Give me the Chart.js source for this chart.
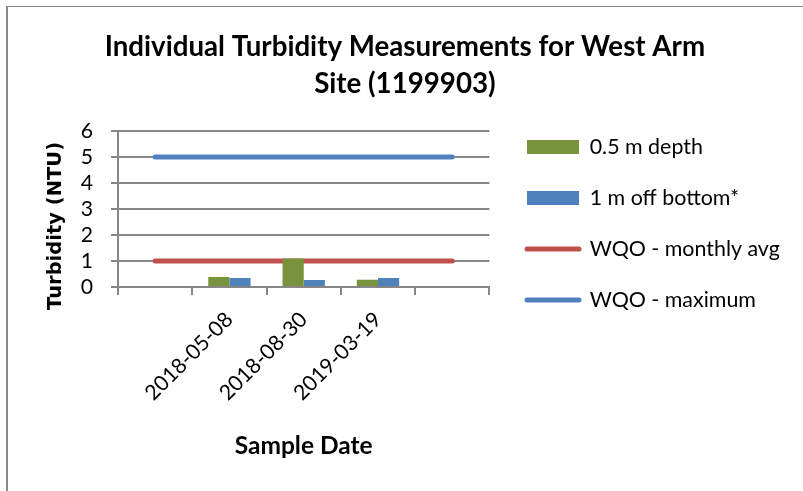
<!DOCTYPE html>
<html>
<head>
<meta charset="utf-8">
<script src="https://cdn.jsdelivr.net/npm/chart.js@4.4.1/dist/chart.umd.min.js"></script>
<style>
  html, body { margin: 0; padding: 0; background: #fff; }
  #wrap { position: relative; width: 803px; height: 491px; overflow: hidden; }
  #moldura { position: absolute; left: 6px; top: 6px; width: 900px; height: 600px;
             border-left: 2px solid #8a8a8a; border-top: 1px solid #8a8a8a; }
  #grafico { position: absolute; left: 0; top: 0; }
</style>
</head>
<body>
<div id="wrap">
  <div id="moldura"></div>
  <canvas id="grafico" width="803" height="491"></canvas>
</div>
<script>
// dados
const datas = ['', '2018-05-08', '2018-08-30', '2019-03-19', ''];
const prof05m = [null, 0.38, 1.1, 0.28, null];
const fundo1m = [null, 0.35, 0.27, 0.35, null];
const wqoMensal = [1, 1, 1, 1, 1];
const wqoMaximo = [5, 5, 5, 5, 5];
const ticksY = [0, 1, 2, 3, 4, 5, 6];

const nomes = ['0.5 m depth', '1 m off bottom*', 'WQO - monthly avg', 'WQO - maximum'];
const titulo = ['Individual Turbidity Measurements for West Arm', 'Site (1199903)'];

const fonte = 'Lato';
const cinza = '#868686';

// tamanho de fonte que da a mesma largura de texto do original (Calibri)
const mctx = document.createElement('canvas').getContext('2d');
function tamanho(texto, peso, familia, alvo) {
  mctx.font = peso + ' 100px ' + familia;
  return Math.round(1000 * alvo / mctx.measureText(texto).width) / 10;
}
const tamTitulo = tamanho(titulo[0], 'bold', fonte, 600);
const tamLeg = tamanho('WQO - monthly avg', 'normal', fonte, 190);
const tamTick = tamanho('2018-05-08', 'normal', fonte, 114);
const tamTituloX = tamanho('Sample Date', 'bold', fonte, 138);
const tamTituloY = tamanho('Turbidity (NTU)', 'bold', 'DejaVu Sans', 168);

// legenda
const legBox = 52;
const legPad = 51 - tamLeg;
mctx.font = 'normal ' + tamLeg + 'px ' + fonte;
const maxTexto = Math.max(...nomes.map(n => mctx.measureText(n).width));
const larguraLeg = legPad + legBox + tamLeg / 2 + maxTexto + 10;
const legLeft = 527 - legPad;
const padDireita = Math.max(0, 803 - legLeft - larguraLeg);
const legTopo = 147 - tamLeg / 2 - legPad - 10;

const ctx = document.getElementById('grafico').getContext('2d');
const grafico = new Chart(ctx, {
  type: 'bar',
  data: {
    labels: datas,
    datasets: [
      {
        label: nomes[0],
        data: prof05m,
        backgroundColor: '#77933C',
        pointStyle: 'rect',
        categoryPercentage: 0.57,
        barPercentage: 1.0
      },
      {
        label: nomes[1],
        data: fundo1m,
        backgroundColor: '#4F81BD',
        pointStyle: 'rect',
        categoryPercentage: 0.57,
        barPercentage: 1.0
      },
      {
        type: 'line',
        label: nomes[2],
        data: wqoMensal,
        borderColor: '#C0504D',
        backgroundColor: '#C0504D',
        borderWidth: 5,
        borderCapStyle: 'round',
        pointRadius: 0,
        pointHoverRadius: 0,
        pointStyle: 'line',
        fill: false
      },
      {
        type: 'line',
        label: nomes[3],
        data: wqoMaximo,
        borderColor: '#4F81BD',
        backgroundColor: '#4F81BD',
        borderWidth: 5,
        borderCapStyle: 'round',
        pointRadius: 0,
        pointHoverRadius: 0,
        pointStyle: 'line',
        fill: false
      }
    ]
  },
  options: {
    responsive: false,
    animation: false,
    events: [],
    layout: {
      padding: { left: 20, top: 0, right: padDireita, bottom: 0 }
    },
    plugins: {
      title: {
        display: true,
        text: titulo,
        color: '#000',
        font: { family: fonte, size: tamTitulo, weight: 'bold', lineHeight: 37 / tamTitulo },
        padding: { top: 28.5, bottom: 28.5 }
      },
      legend: {
        display: true,
        position: 'right',
        align: 'start',
        maxWidth: 320,
        title: {
          display: true,
          text: '',
          font: { size: 10, lineHeight: 1 },
          padding: { top: legTopo, bottom: 0 }
        },
        labels: {
          usePointStyle: true,
          pointStyleWidth: legBox,
          boxHeight: 14,
          padding: legPad,
          color: '#000',
          font: { family: fonte, size: tamLeg },
          generateLabels: (chart) => {
            const itens = Chart.defaults.plugins.legend.labels.generateLabels(chart);
            itens.forEach(it => { if (it.pointStyle === 'line') it.lineCap = 'round'; });
            return itens;
          }
        }
      },
      tooltip: { enabled: false }
    },
    scales: {
      x: {
        offset: true,
        grid: {
          display: true,
          offset: true,
          drawOnChartArea: false,
          drawTicks: true,
          tickLength: 8,
          color: cinza,
          lineWidth: 2
        },
        border: { display: true, color: cinza, width: 2 },
        ticks: {
          autoSkip: false,
          minRotation: 45,
          maxRotation: 45,
          padding: 12,
          color: '#000',
          font: { family: fonte, size: tamTick }
        },
        title: {
          display: true,
          text: 'Sample Date',
          color: '#000',
          font: { family: fonte, size: tamTituloX, weight: 'bold', lineHeight: 1.2 },
          padding: { top: 4, bottom: 45 - tamTituloX * 0.6 }
        },
        afterFit: (s) => { s.height = 204; }
      },
      y: {
        min: ticksY[0],
        max: ticksY[ticksY.length - 1],
        grid: {
          color: cinza,
          lineWidth: 2,
          tickLength: 7
        },
        border: { display: true, color: cinza, width: 2 },
        ticks: {
          stepSize: 1,
          autoSkip: false,
          padding: 18,
          color: '#000',
          font: { family: fonte, size: tamTick }
        },
        title: {
          display: true,
          // espacos no fim descem o texto para o centro usado pelo Excel
          text: 'Turbidity (NTU)     ',
          color: '#000',
          font: { family: 'DejaVu Sans', size: tamTituloY, weight: 'bold', lineHeight: 1.2 },
          padding: { top: 36 - tamTituloY * 0.6, bottom: 0 }
        },
        afterFit: (s) => { s.width = 98; }
      },
      folga: {
        position: 'right',
        display: true,
        grid: { display: false },
        border: { display: false },
        ticks: { display: false },
        afterFit: (s) => { s.width = 8; }
      }
    }
  }
});
</script>
</body>
</html>
